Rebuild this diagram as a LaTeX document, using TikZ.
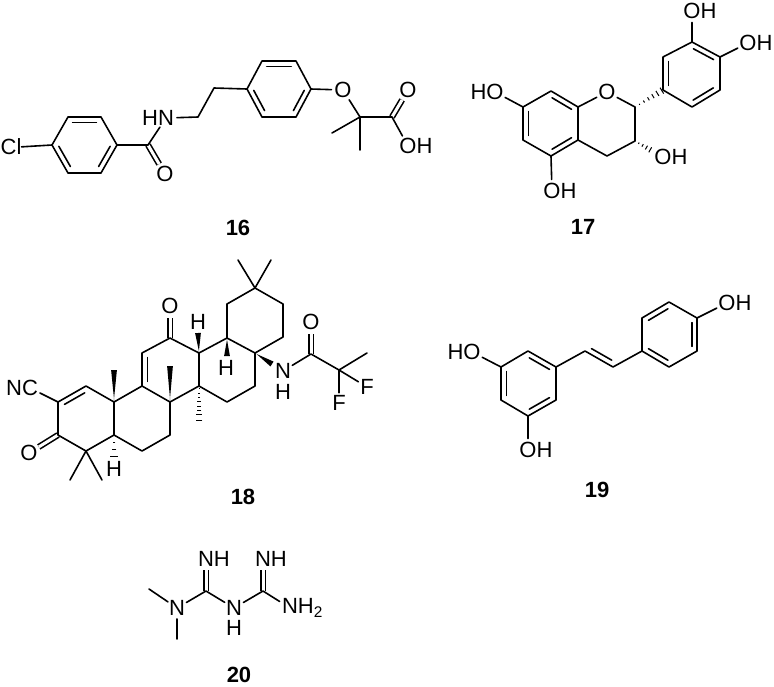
\documentclass[tikz,border=0pt]{standalone}
\usepackage{fontspec}
\setmainfont{Liberation Sans}
\usetikzlibrary{calc}
\newcommand{\innerbond}[2]{\draw ($(#1)!.14!(#2)!5.3pt!-90:(#2)$) -- ($(#2)!.14!(#1)!5.3pt!90:(#1)$);}
\newcommand{\wedgebond}[2]{\fill ($(#1)!.3pt!90:(#2)$) -- ($(#2)!2.9pt!90:(#1)$) -- ($(#2)!2.9pt!-90:(#1)$) -- ($(#1)!.3pt!-90:(#2)$) -- cycle;}
\newcommand{\hashbond}[3]{\foreach \t in {#3} {\draw[line width=1pt,line cap=butt] ($(#1)!\t!(#2)!\t*3.6pt!90:(#2)$) -- ($(#1)!\t!(#2)!\t*3.6pt!-90:(#2)$);}}
\tikzset{
	atom/.style={circle,inner sep=0pt,outer sep=0pt,font=\fontsize{22}{24}\selectfont},
	cmpd/.style={inner sep=0pt,font=\fontsize{22}{24}\selectfont\bfseries},
	dbond/.style={double,double distance=3pt,line cap=butt}
}
\begin{document}
\begin{tikzpicture}[x=1pt,y=-1pt,line width=1.6pt,line join=round,line cap=round]
	\useasboundingbox (0,0) rectangle (774,686);
	% 16
	\path (52,145) coordinate (a1) (68,117) coordinate (a2) (101,117) coordinate (a3)
	(117,145) coordinate (a4) (101,173) coordinate (a5) (68,173) coordinate (a6)
	(148,145) coordinate (a7) (198,117) coordinate (a8) (214,88) coordinate (a9)
	(247,89) coordinate (b1) (262,61) coordinate (b2) (296,61) coordinate (b3)
	(311,89) coordinate (b4) (296,117) coordinate (b5) (262,117) coordinate (b6)
	(360,117) coordinate (b7) (332,133) coordinate (b8) (360,150) coordinate (b9)
	(392,117) coordinate (b10);
	\node[atom,rectangle] (cl) at (19,147) {\llap{C}l};
	\node[atom] (nh1) at (166,118) {\llap{H}N};
	\node[atom] (o1) at (165,174) {O};
	\node[atom] (o2) at (343,90) {O};
	\node[atom] (o3) at (408,90) {O};
	\node[atom] (o4) at (408,146) {O\rlap{H}};
	\draw[dbond] (a7) -- (o1);
	\draw[dbond] (b10) -- (o3);
	\draw (cl) -- (a1) -- (a2) -- (a3) -- (a4) -- (a5) -- (a6) -- (a1);
	\draw (a4) -- (a7) -- (nh1) -- (a8) -- (a9) -- (b1) -- (b2) -- (b3) -- (b4) -- (b5) -- (b6) -- (b1);
	\draw (b4) -- (o2) -- (b7) -- (b10) -- (o4);
	\draw (b8) -- (b7) -- (b9);
	\innerbond{a2}{a3} \innerbond{a4}{a5} \innerbond{a6}{a1}
	\innerbond{b2}{b3} \innerbond{b4}{b5} \innerbond{b6}{b1}
	\node[cmpd] (n16) at (238,228) {16};
	% 17
	\path (523,107) coordinate (e1) (551,91) coordinate (e2) (578,107) coordinate (e3)
	(578,140) coordinate (e4) (551,156) coordinate (e5) (523,140) coordinate (e6)
	(635,107) coordinate (e7) (635,141) coordinate (e8) (607,156) coordinate (e9)
	(663,90) coordinate (f1) (663,57) coordinate (f2) (692,42) coordinate (f3)
	(720,57) coordinate (f4) (720,90) coordinate (f5) (692,107) coordinate (f6)
	(654,152) coordinate (e10);
	\node[atom] (o5) at (607,92) {O};
	\node[atom] (o6) at (495,92) {\llap{H}O};
	\node[atom] (o7) at (552,191) {O\rlap{H}};
	\node[atom] (o8) at (663,157) {O\rlap{H}};
	\node[atom] (o9) at (692,11) {O\rlap{H}};
	\node[atom] (o10) at (748,43) {O\rlap{H}};
	\draw (e1) -- (e2) -- (e3) -- (e4) -- (e5) -- (e6) -- (e1);
	\draw (e3) -- (o5) -- (e7) -- (e8) -- (e9) -- (e4);
	\draw (f1) -- (f2) -- (f3) -- (f4) -- (f5) -- (f6) -- (f1);
	\draw (o6) -- (e1);
	\draw (e5) -- (o7);
	\draw (f3) -- (o9);
	\draw (f4) -- (o10);
	\hashbond{e7}{f1}{.16,.32,.48,.64,.8,.96}
	\hashbond{e8}{e10}{.2,.4,.6,.8,1}
	\innerbond{e2}{e3} \innerbond{e4}{e5} \innerbond{e6}{e1}
	\innerbond{f1}{f2} \innerbond{f3}{f4} \innerbond{f5}{f6}
	\node[cmpd] (n17) at (583,227) {17};
	% 18
	\path (86,386) coordinate (c1) (58,402) coordinate (c2) (58,435) coordinate (c3)
	(86,451) coordinate (c4) (114,435) coordinate (c5) (142,451) coordinate (c6)
	(170,435) coordinate (c7) (170,402) coordinate (c8) (142,386) coordinate (c9)
	(114,402) coordinate (c10) (142,353) coordinate (c11) (170,338) coordinate (c12)
	(199,353) coordinate (c13) (199,386) coordinate (c14) (227,402) coordinate (c15)
	(255,386) coordinate (c16) (255,353) coordinate (c17) (227,338) coordinate (c18)
	(227,304) coordinate (c19) (255,288) coordinate (c20) (283,304) coordinate (c21)
	(283,337) coordinate (c22) (311,354) coordinate (c23) (339,370) coordinate (c24)
	(367,353) coordinate (m1) (70,480) coordinate (m2) (102,480) coordinate (m3)
	(114,370) coordinate (m4) (170,366) coordinate (m5) (199,422) coordinate (m6)
	(238,260) coordinate (m7) (271,260) coordinate (m8)
	(114,457) coordinate (w1) (198,333) coordinate (w2) (227,356) coordinate (w3) (272,364) coordinate (w4);
	\node[atom] (cn) at (30,388) {\llap{N}C};
	\node[atom] (o11) at (29,453) {O};
	\node[atom] (o12) at (170,306) {O};
	\node[atom] (o13) at (311,322) {O};
	\node[atom] (n1) at (283,371) {N};
	\node[atom] (h1) at (283,392) {H};
	\node[atom] (h2) at (114,469) {H};
	\node[atom] (h3) at (198,322) {H};
	\node[atom] (h4) at (226,368) {H};
	\node[atom] (f1a) at (367,387) {F};
	\node[atom] (f2a) at (339,403) {F};
	\draw[dbond] (c3) -- (o11);
	\draw[dbond] (c12) -- (o12);
	\draw[dbond] (c23) -- (o13);
	\draw (cn) -- (c2) -- (c1) -- (c10) -- (c5) -- (c4) -- (c3) -- (c2);
	\draw (c5) -- (c6) -- (c7) -- (c8);
	\draw (c10) -- (c9) -- (c11) -- (c12) -- (c13) -- (c14) -- (c8) -- (c9);
	\draw (c13) -- (c18) -- (c17) -- (c16) -- (c15) -- (c14);
	\draw (c18) -- (c19) -- (c20) -- (c21) -- (c22) -- (c17);
	\draw (m2) -- (c4) -- (m3);
	\draw (m7) -- (c20) -- (m8);
	\draw (n1) -- (c23) -- (c24) -- (m1);
	\draw (f1a) -- (c24) -- (f2a);
	\wedgebond{c10}{m4}
	\wedgebond{c8}{m5}
	\wedgebond{c13}{w2}
	\wedgebond{c18}{w3}
	\wedgebond{c17}{w4}
	\hashbond{c14}{m6}{.08,.2,.32,.44,.56,.68,.8,.95}
	\hashbond{c5}{w1}{.35,.65,.98}
	\innerbond{c2}{c1} \innerbond{c9}{c11}
	\node[cmpd] (n18) at (243,497) {18};
	% 19
	\path (501,367) coordinate (g1) (528,351) coordinate (g2) (556,367) coordinate (g3)
	(556,400) coordinate (g4) (528,416) coordinate (g5) (501,400) coordinate (g6)
	(585,351) coordinate (v1) (613,367) coordinate (v2)
	(642,351) coordinate (k1) (642,318) coordinate (k2) (669,302) coordinate (k3)
	(697,318) coordinate (k4) (697,351) coordinate (k5) (669,367) coordinate (k6);
	\node[atom] (o14) at (472,352) {\llap{H}O};
	\node[atom] (o15) at (528,450) {O\rlap{H}};
	\node[atom] (o16) at (727,303) {O\rlap{H}};
	\draw (g1) -- (g2) -- (g3) -- (g4) -- (g5) -- (g6) -- (g1);
	\draw (g3) -- (v1) -- (v2) -- (k1) -- (k2) -- (k3) -- (k4) -- (k5) -- (k6) -- (k1);
	\draw (o14) -- (g1);
	\draw (g5) -- (o15);
	\draw (k4) -- (o16);
	\innerbond{g2}{g3} \innerbond{g4}{g5} \innerbond{g6}{g1}
	\innerbond{v2}{v1}
	\innerbond{k2}{k3} \innerbond{k4}{k5} \innerbond{k6}{k1}
	\node[cmpd] (n19) at (597,490) {19};
	% 20
	\path (206,591) coordinate (p1) (263,591) coordinate (p2)
	(149,589) coordinate (p3) (177,639) coordinate (p4);
	\node[atom] (n2) at (177,608) {N};
	\node[atom] (n3) at (234,608) {N};
	\node[atom] (h5) at (234,628) {H};
	\node[atom] (n4) at (206,559) {N\rlap{H}};
	\node[atom] (n5) at (263,559) {N\rlap{H}};
	\node[atom] (n6) at (290,608) {N\rlap{H\textsubscript{2}}};
	\draw[dbond] (p1) -- (n4);
	\draw[dbond] (p2) -- (n5);
	\draw (p3) -- (n2) -- (p1) -- (n3) -- (p2) -- (n6);
	\draw (n2) -- (p4);
	\node[cmpd] (n20) at (239,675) {20};
\end{tikzpicture}
\end{document}
